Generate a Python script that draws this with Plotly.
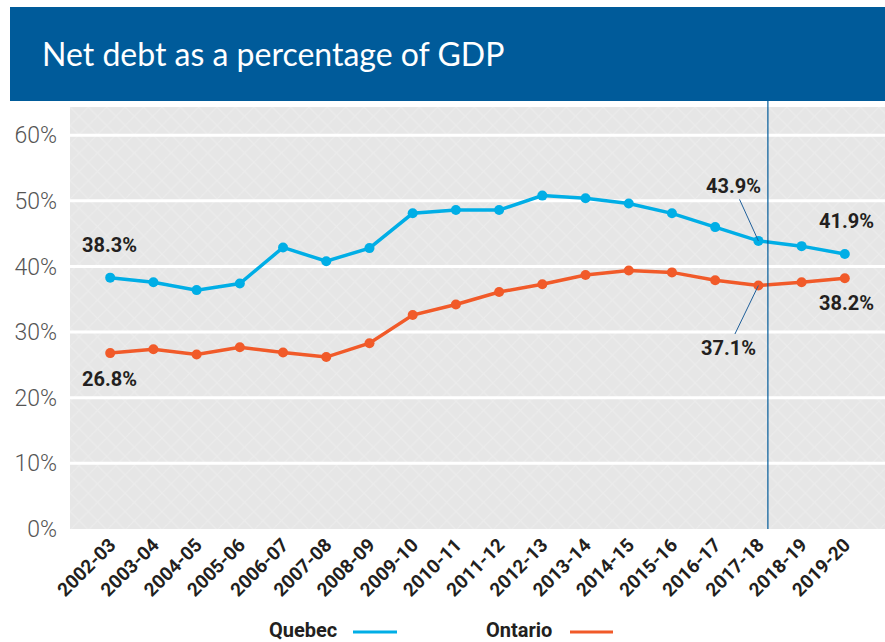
import plotly.graph_objects as go

years = ["2002-03", "2003-04", "2004-05", "2005-06", "2006-07", "2007-08", "2008-09",
         "2009-10", "2010-11", "2011-12", "2012-13", "2013-14", "2014-15", "2015-16",
         "2016-17", "2017-18", "2018-19", "2019-20"]
quebec = [38.3, 37.6, 36.4, 37.4, 42.9, 40.8, 42.8, 48.1, 48.6, 48.6, 50.8, 50.4,
          49.6, 48.1, 46.0, 43.9, 43.1, 41.9]
ontario = [26.8, 27.4, 26.6, 27.7, 26.9, 26.2, 28.3, 32.6, 34.2, 36.1, 37.3, 38.7,
           39.4, 39.1, 37.9, 37.1, 37.6, 38.2]
y_ticks = [0, 10, 20, 30, 40, 50, 60]
y_tick_text = [f"{v}%" for v in y_ticks]
forecast_start = 15.22  # position of vertical divider (between 2017-18 and 2018-19)

Q_COL = "#00aee6"
O_COL = "#f15a29"
HDR = "#005b9a"
TXT = "#231f20"

idx = list(range(len(years)))
x_range = [-0.93, len(years) - 1 + 0.93]
y_range = [0, 64.3]

# pixel helpers (plot area: x 70..885, y 107..529 in a 885x642 page)
def px(x):
    return (x - 70) / 815

def py(y):
    return (529 - y) / 422

fig = go.Figure()

# textured background
fig.add_trace(go.Bar(
    x=[(x_range[0] + x_range[1]) / 2], y=[y_range[1]], width=[x_range[1] - x_range[0]],
    marker=dict(color="#e6e6e6", line=dict(width=0),
                pattern=dict(shape="x", fgcolor="#f2f2f2", bgcolor="#e6e6e6", size=13, solidity=0.15)),
    hoverinfo="skip", showlegend=False))

# gridlines (drawn as traces above the texture)
for v in y_ticks[1:]:
    fig.add_trace(go.Scatter(x=x_range, y=[v, v], mode="lines",
                             line=dict(color="white", width=3), hoverinfo="skip", showlegend=False))

fig.add_trace(go.Scatter(x=idx, y=quebec, mode="lines+markers", name="Quebec",
                         line=dict(color=Q_COL, width=3.5), marker=dict(size=10, color=Q_COL),
                         showlegend=False))
fig.add_trace(go.Scatter(x=idx, y=ontario, mode="lines+markers", name="Ontario",
                         line=dict(color=O_COL, width=3.5), marker=dict(size=10, color=O_COL),
                         showlegend=False))

shapes = [
    # header banner
    dict(type="rect", xref="paper", yref="paper", x0=px(10), x1=1.0, y0=py(101), y1=py(7),
         fillcolor=HDR, line=dict(width=0), layer="above"),
    # divider line
    dict(type="line", xref="x", yref="paper", x0=forecast_start, x1=forecast_start, y0=0, y1=py(101),
         line=dict(color=HDR, width=1.2), layer="above"),
    # legend lines
    dict(type="line", xref="paper", yref="paper", x0=px(353), x1=px(397),
         y0=py(632), y1=py(632), line=dict(color=Q_COL, width=3)),
    dict(type="line", xref="paper", yref="paper", x0=px(570), x1=px(613),
         y0=py(632), y1=py(632), line=dict(color=O_COL, width=3)),
]

lab_font = dict(family="Roboto", size=20, color=TXT, weight="bold")
leg_font = dict(family="Roboto", size=20, color=TXT, weight="bold")
last = len(years) - 1
annotations = [
    dict(text="Net debt as a percentage of GDP", xref="paper", yref="paper",
         x=px(40), y=py(54), xanchor="left", yanchor="middle", showarrow=False,
         font=dict(family="Lato", size=32, color="white")),
    dict(text=f"{quebec[0]}%", x=0, y=quebec[0], xshift=-1, yshift=33, showarrow=False, font=lab_font),
    dict(text=f"{ontario[0]}%", x=0, y=ontario[0], xshift=-1, yshift=-26, showarrow=False, font=lab_font),
    dict(text=f"{quebec[last]}%", x=last, y=quebec[last], xshift=2, yshift=33, showarrow=False, font=lab_font),
    dict(text=f"{ontario[last]}%", x=last, y=ontario[last], xshift=2, yshift=-25, showarrow=False, font=lab_font),
    dict(text=f"{quebec[15]}%", x=15, y=quebec[15], ax=-25, ay=-55, showarrow=True, arrowhead=0,
         arrowwidth=1, arrowcolor="#1f5f9a", standoff=0, font=lab_font),
    dict(text=f"{ontario[15]}%", x=15, y=ontario[15], ax=-30, ay=62, showarrow=True, arrowhead=0,
         arrowwidth=1, arrowcolor="#1f5f9a", standoff=0, font=lab_font),
    dict(text="Quebec", xref="paper", yref="paper", x=px(339), y=py(630),
         xanchor="right", yanchor="middle", showarrow=False, font=leg_font),
    dict(text="Ontario", xref="paper", yref="paper", x=px(554), y=py(630),
         xanchor="right", yanchor="middle", showarrow=False, font=leg_font),
]

fig.update_layout(
    width=885, height=642,
    margin=dict(l=70, r=0, t=107, b=113),
    paper_bgcolor="white", plot_bgcolor="#e6e6e6",
    showlegend=False, bargap=0,
    shapes=shapes, annotations=annotations,
    xaxis=dict(range=x_range, tickmode="array", tickvals=idx, ticktext=years, tickangle=-45,
               showgrid=False, zeroline=False, showline=False, ticks="",
               tickfont=dict(family="Roboto", size=19, color=TXT, weight="bold")),
    yaxis=dict(range=y_range, tickmode="array", tickvals=y_ticks, ticktext=y_tick_text,
               showgrid=False, zeroline=False, showline=False, ticks="", ticklabelstandoff=12,
               tickfont=dict(family="Roboto", size=23, color="#555555", weight=300)),
)

fig.write_html("out.html", config={"displayModeBar": False},
               post_script="document.body.style.margin='0px';")
